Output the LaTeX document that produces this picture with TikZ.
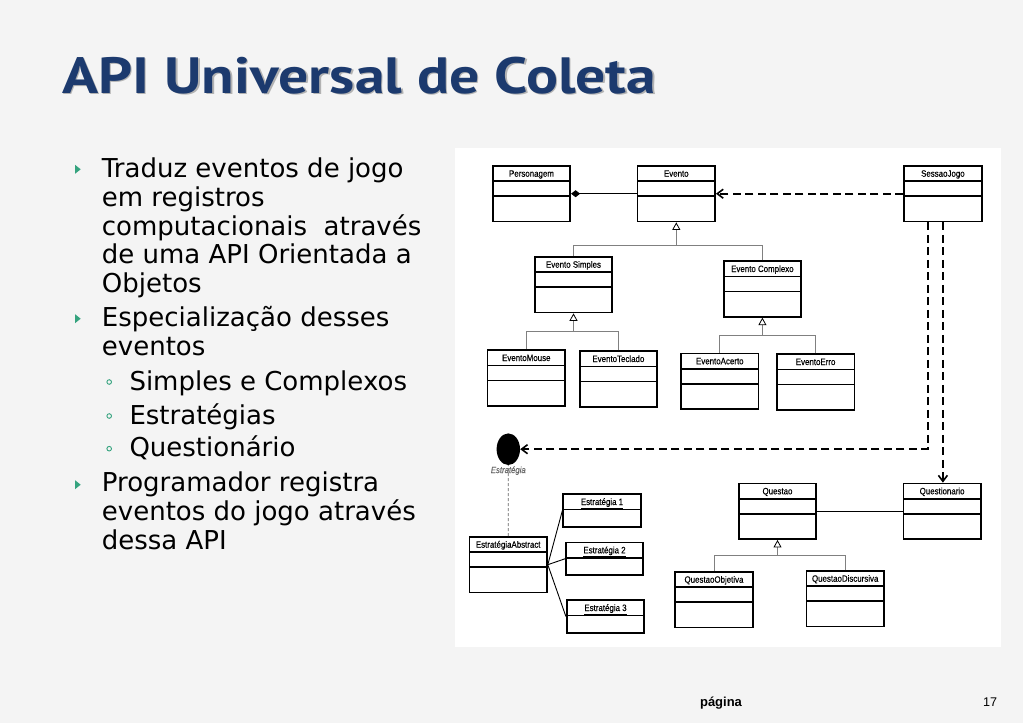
\documentclass[tikz,border=0pt]{standalone}
\usepackage{fontspec}
\usetikzlibrary{arrows.meta,shapes.geometric}
\newfontfamily\umlfont[FakeStretch=0.86,FakeBold=0.35]{Liberation Sans}
\newfontfamily\bodyfont{DejaVu Sans}
\newfontfamily\titlefont[FakeStretch=1.17]{PT Sans}
\newfontfamily\footfont{Liberation Sans}
\definecolor{titleblue}{HTML}{1C3A6E}
\definecolor{bulletgreen}{HTML}{35A37E}
\definecolor{slidebg}{HTML}{F4F4F4}

\begin{document}
\begin{tikzpicture}[
    x=1pt, y=-1pt,
    >=Stealth,
    classbox/.style={draw, line width=1.7pt, fill=white, minimum width=77.5pt,
        inner xsep=2pt, inner ysep=4.2pt, text height=6.6pt, text depth=40.6pt,
        font=\umlfont\fontsize{9.2pt}{11pt}\selectfont,
        path picture={
            \draw[line width=1.5pt] ([yshift=-15.3pt]path picture bounding box.north west) -- ([yshift=-15.3pt]path picture bounding box.north east);
            \draw[line width=1.5pt] ([yshift=-30.3pt]path picture bounding box.north west) -- ([yshift=-30.3pt]path picture bounding box.north east);
        }},
    objbox/.style={draw, line width=1.7pt, fill=white, minimum width=77.5pt,
        inner xsep=2pt, inner ysep=4.2pt, text height=6.6pt, text depth=17.6pt,
        font=\umlfont\fontsize{9.2pt}{11pt}\selectfont,
        path picture={
            \draw[line width=1.5pt] ([yshift=-15.3pt]path picture bounding box.north west) -- ([yshift=-15.3pt]path picture bounding box.north east);
        }},
    gen/.style={draw=black!50, line width=1pt, -{Triangle[length=7.5pt, width=8pt, color=black, fill=white, line width=0.8pt]}},
    genline/.style={draw=black!50, line width=1pt},
    dep/.style={line width=2pt, dash pattern=on 8pt off 4.5pt, -{Straight Barb[length=6pt, width=9pt, line width=1.6pt]}},
    bodytext/.style={anchor=base west, align=left, inner sep=0, font=\bodyfont\fontsize{26pt}{28.8pt}\selectfont},
    title/.style={anchor=base west, inner sep=0, font=\titlefont\bfseries\fontsize{51pt}{56pt}\selectfont}
]
    % Slide background
    \useasboundingbox (0,0) rectangle (1023,723);
    \fill[slidebg] (0,0) rectangle (1023,723);
    \fill[white] (455,148) rectangle (1001,647);

    % Title
    \node[title, text=black!30] (titleshadow) at (63.5,94.5) {API Universal de Coleta};
    \node[title, text=titleblue] (title) at (62,93) {API Universal de Coleta};

    % Bullets (multi-line nodes sit on their last baseline)
    \node[bodytext] (b1) at (101.7,292.7) {Traduz eventos de jogo\\em registros\\computacionais\ \ através\\de uma API Orientada a\\Objetos};
    \node[bodytext] (b2) at (101.7,355) {Especialização desses\\eventos};
    \node[bodytext] (s1) at (129.3,390) {Simples e Complexos};
    \node[bodytext] (s2) at (129.3,424) {Estratégias};
    \node[bodytext] (s3) at (129.3,456.7) {Questionário};
    \node[bodytext] (b3) at (101.7,549.3) {Programador registra\\eventos do jogo através\\dessa API};
    \fill[bulletgreen] (75,164.8) -- (80.7,169.3) -- (75,173.8) -- cycle;
    \fill[bulletgreen] (75,314.2) -- (80.7,318.7) -- (75,323.2) -- cycle;
    \fill[bulletgreen] (75,480.2) -- (80.7,484.7) -- (75,489.2) -- cycle;
    \draw[bulletgreen, line width=0.9pt] (109.2,382) circle (2.3);
    \draw[bulletgreen, line width=0.9pt] (109.2,416) circle (2.3);
    \draw[bulletgreen, line width=0.9pt] (109.2,448.7) circle (2.3);

    % Classes
    \node[classbox] (pers) at (531.5,193.7) {Personagem};
    \node[classbox] (evento) at (676.3,193.7) {Evento};
    \node[classbox] (sessao) at (942.9,193.7) {SessaoJogo};
    \node[classbox] (evsimples) at (573.5,284.7) {Evento Simples};
    \node[classbox] (evcomplexo) at (762.4,289) {Evento Complexo};
    \node[classbox] (evmouse) at (526.3,378) {EventoMouse};
    \node[classbox] (evteclado) at (618.4,379) {EventoTeclado};
    \node[classbox] (evacerto) at (719.8,381.3) {EventoAcerto};
    \node[classbox] (everro) at (815.6,382) {EventoErro};
    \node[classbox] (abstract) at (508.2,564.7) {EstratégiaAbstract};
    \node[objbox] (estr1) at (602,510.5) {\underline{Estratégia 1}};
    \node[objbox] (estr2) at (604.5,558.8) {\underline{Estratégia 2}};
    \node[objbox] (estr3) at (605.5,616.5) {\underline{Estratégia 3}};
    \node[classbox] (questao) at (777.5,511.3) {Questao};
    \node[classbox] (questionario) at (942.1,511.3) {Questionario};
    \node[classbox] (qobjetiva) at (714,599.7) {QuestaoObjetiva};
    \node[classbox] (qdiscursiva) at (845.2,598.7) {QuestaoDiscursiva};

    % Interface
    \node[ellipse, fill=black, inner sep=0, minimum width=23.4pt, minimum height=31.6pt,
        label={[inner sep=1pt, text=black!60, font=\umlfont\itshape\fontsize{9pt}{10pt}\selectfont]below:Estratégia}] (estrat) at (508.3,449.2) {};
    \draw[black!60, line width=0.8pt, dash pattern=on 3pt off 2pt] (abstract.north) -- (estrat.south);

    % Composition and dependencies
    \draw[line width=1pt, {Diamond[length=9pt, width=7pt]}-] (pers.east) -- (evento.west);
    \draw[dep] (sessao.west) -- (evento.east);
    \draw[dep] ([xshift=-15.3pt]sessao.south) |- (estrat.east);
    \draw[dep] (sessao.south) -- (sessao.south |- questionario.north);

    % Generalizations
    \draw[gen] (evsimples.north) |- ([yshift=-23.3pt]evento.south) -- (evento.south);
    \draw[genline] (evcomplexo.north) |- ([yshift=-23.3pt]evento.south);
    \draw[gen] (evmouse.north) |- ([yshift=-18.3pt]evsimples.south) -- (evsimples.south);
    \draw[genline] (evteclado.north) |- ([yshift=-18.3pt]evsimples.south);
    \draw[gen] (evacerto.north) |- ([yshift=-18pt]evcomplexo.south) -- (evcomplexo.south);
    \draw[genline] (everro.north) |- ([yshift=-18pt]evcomplexo.south);
    \draw[gen] (qobjetiva.north) |- ([yshift=-15.7pt]questao.south) -- (questao.south);
    \draw[genline] (qdiscursiva.north) |- ([yshift=-15.7pt]questao.south);

    % Strategies and association
    \draw[line width=0.9pt] (abstract.east) -- (estr1.west);
    \draw[line width=0.9pt] (abstract.east) -- (estr2.west);
    \draw[line width=0.9pt] (abstract.east) -- (estr3.west);
    \draw[line width=0.9pt] (questao.east) -- (questionario.west);

    % Footer
    \node[anchor=base, inner sep=0, font=\footfont\bfseries\fontsize{13pt}{15pt}\selectfont] (pagina) at (721,706.7) {página};
    \node[anchor=base east, inner sep=0, font=\footfont\fontsize{12.6pt}{15pt}\selectfont] (pagenum) at (997.3,706.5) {17};
\end{tikzpicture}
\end{document}
